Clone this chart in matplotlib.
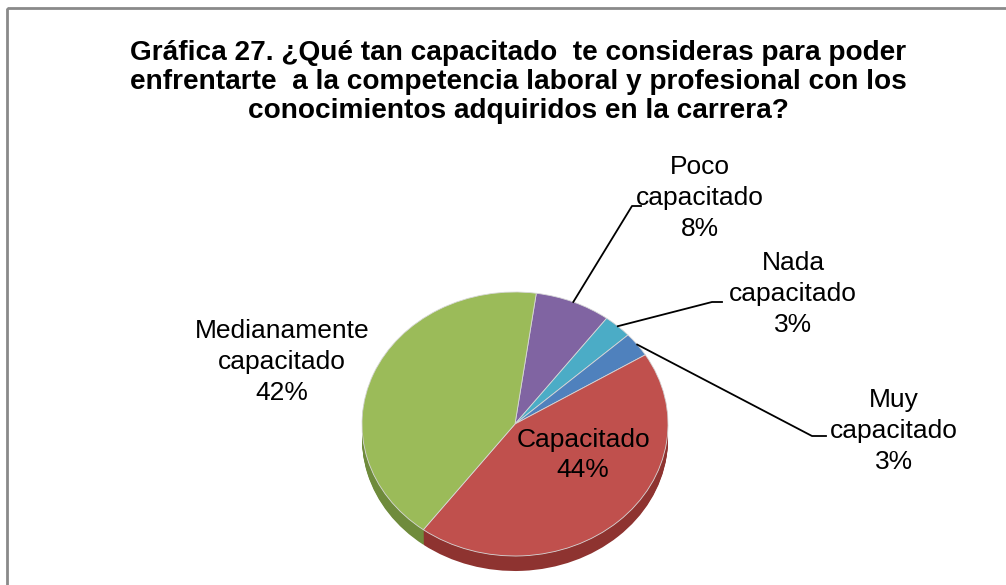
import numpy as np
import matplotlib
matplotlib.use("Agg")
import matplotlib.pyplot as plt

plt.rcParams['font.family'] = ['Liberation Sans', 'DejaVu Sans']

# data (clockwise from the top)
labels = ["Poco\ncapacitado", "Nada\ncapacitado", "Muy\ncapacitado",
          "Capacitado", "Medianamente\ncapacitado"]
values = [8, 3, 3, 44, 42]
colors = ["#8064A2", "#4BACC6", "#4F81BD", "#C0504D", "#9BBB59"]
side_colors = ["#5E4A7A", "#35809A", "#385F8E", "#8E3330", "#6F8B3C"]

title = ("Gráfica 27. ¿Qué tan capacitado  te consideras para poder\n"
         "enfrentarte  a la competencia laboral y profesional con los\n"
         "conocimientos adquiridos en la carrera?")

W, H = 1006, 585
fig = plt.figure(figsize=(W / 100, H / 100), dpi=100)

# pie geometry in pixels
cx, cy, rx, ry, depth = 515, 424, 153, 132, 15
start = 82  # degrees (matplotlib convention), clockwise drawing

xl, xr = -1.2, 1.2
yb, yt = -1.3, 1.2
left = (cx + xl * rx) / W
width = (xr - xl) * rx / W
bottom = (H - (cy - yb * ry)) / H
height = (yt - yb) * ry / H
ax = fig.add_axes([left, bottom, width, height])

# side of the tilted pie
d = depth / ry
for k in np.linspace(d, 0.005, 16):
    ax.pie(values, colors=side_colors, startangle=start, counterclock=False,
           center=(0, -k), wedgeprops=dict(linewidth=0))
# top face
wedges, _ = ax.pie(values, colors=colors, startangle=start, counterclock=False,
                   wedgeprops=dict(linewidth=0.6, edgecolor="#d8d8d8"))
ax.set_aspect('auto')
ax.set_xlim(xl, xr)
ax.set_ylim(yb, yt)
ax.axis('off')

# overlay in pixel coordinates
ov = fig.add_axes([0, 0, 1, 1], facecolor='none')
ov.set_xlim(0, W)
ov.set_ylim(H, 0)
ov.axis('off')
ov.add_patch(plt.Rectangle((7, 8), W + 10, H + 10, fill=False,
                           edgecolor="#8a8a8a", linewidth=2))

ov.text(518, 82, title, ha='center', va='center', fontsize=20.2,
        fontweight='bold', linespacing=1.17)

pct = [f"{v}%" for v in values]
label_pos = [(700, 198), (793, 294), (894, 431), (583, 455), (282, 362)]
elbows = {0: [(632, 206), (641, 206)],
          1: [(712, 302), (722, 302)],
          2: [(812, 436), (826, 436)]}

total = sum(values)
ang = start
for i, v in enumerate(values):
    span = 360 * v / total
    mid = np.radians(ang - span / 2)
    ang -= span
    x0 = cx + rx * np.cos(mid)
    y0 = cy - ry * np.sin(mid)
    if i in elbows:
        pts = [(x0, y0)] + elbows[i]
        ov.plot([p[0] for p in pts], [p[1] for p in pts], color='black', lw=1.3)
    tx, ty = label_pos[i]
    ov.text(tx, ty, labels[i] + "\n" + pct[i], ha='center', va='center',
            fontsize=19, linespacing=1.36)

fig.savefig("out.png", dpi=100)
